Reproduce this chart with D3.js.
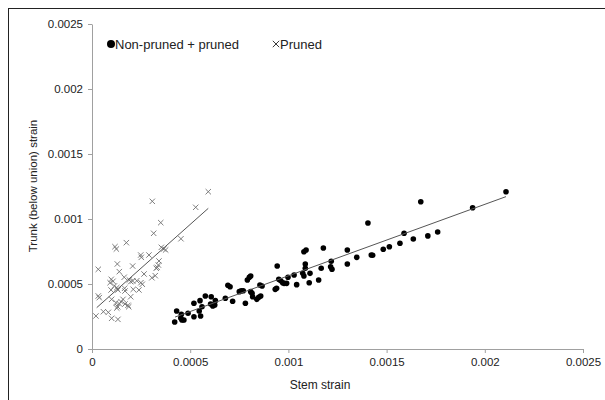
<!DOCTYPE html>
<html>
<head>
<meta charset="utf-8">
<script src="https://cdnjs.cloudflare.com/ajax/libs/d3/7.8.5/d3.min.js"></script>
<style>
body { margin: 0; background: #fff; }
text { font-family: "Liberation Sans", Arial, sans-serif; }
</style>
</head>
<body>
<script>
const w = 605;
const h = 400;

// pruned (crosses): stem strain, trunk strain
const prunedX = [0.000592,0.000528,0.000307,0.000350,0.000314,0.000453,0.000175,0.000117,0.000124,0.000353,
  0.000365,0.000375,0.000248,0.000251,0.000290,0.000341,0.000338,0.000332,0.000327,0.000032,
  0.000129,0.000207,0.000139,0.000265,0.000322,0.000305,0.000098,0.000107,0.000092,0.000164,
  0.000190,0.000197,0.000207,0.000228,0.000249,0.000256,0.000114,0.000126,0.000132,0.000166,
  0.000168,0.000097,0.000210,0.000239,0.000032,0.000037,0.000100,0.000158,0.000148,0.000139,
  0.000197,0.000168,0.000183,0.000187,0.000122,0.000131,0.000126,0.000058,0.000083,0.000020,
  0.000100,0.000132];
const prunedY = [0.001210,0.001090,0.001136,0.000972,0.000890,0.000848,0.000818,0.000787,0.000769,0.000782,
  0.000769,0.000762,0.000723,0.000705,0.000723,0.000677,0.000646,0.000628,0.000621,0.000613,
  0.000654,0.000638,0.000595,0.000577,0.000564,0.000548,0.000536,0.000521,0.000510,0.000552,
  0.000531,0.000518,0.000523,0.000525,0.000510,0.000498,0.000485,0.000472,0.000454,0.000467,
  0.000446,0.000454,0.000459,0.000454,0.000408,0.000395,0.000382,0.000382,0.000364,0.000348,
  0.000402,0.000346,0.000336,0.000325,0.000356,0.000325,0.000315,0.000287,0.000282,0.000254,
  0.000236,0.000228];

// non-pruned + pruned (dots)
const allX = [0.000421,0.000431,0.000452,0.000458,0.000468,0.000455,0.000489,0.000519,0.000519,0.000546,
  0.000553,0.000550,0.000560,0.000577,0.000607,0.000604,0.000615,0.000625,0.000628,0.000679,
  0.000692,0.000716,0.000750,0.000760,0.000770,0.000781,0.000791,0.000801,0.000808,0.000808,
  0.000815,0.000818,0.000839,0.000849,0.000859,0.000855,0.000866,0.000940,0.000933,0.000943,
  0.000951,0.000961,0.000971,0.000978,0.000991,0.000998,0.001029,0.001042,0.001086,0.001086,
  0.001079,0.001110,0.001106,0.001154,0.001079,0.001090,0.001178,0.001167,0.001218,0.001215,
  0.001222,0.001300,0.001300,0.001348,0.001405,0.001422,0.001429,0.001483,0.001514,0.001568,
  0.001589,0.001636,0.001674,0.001938,0.002108,0.000703,0.001073,0.001710,0.001760];
const allY = [0.000208,0.000292,0.000238,0.000223,0.000223,0.000267,0.000275,0.000352,0.000248,0.000292,
  0.000254,0.000372,0.000325,0.000408,0.000402,0.000346,0.000331,0.000338,0.000372,0.000390,
  0.000490,0.000367,0.000441,0.000448,0.000448,0.000352,0.000531,0.000552,0.000562,0.000441,
  0.000428,0.000402,0.000382,0.000398,0.000408,0.000492,0.000485,0.000467,0.000459,0.000638,
  0.000536,0.000525,0.000510,0.000505,0.000505,0.000552,0.000569,0.000495,0.000654,0.000621,
  0.000562,0.000582,0.000510,0.000531,0.000748,0.000762,0.000777,0.000621,0.000675,0.000633,
  0.000613,0.000762,0.000654,0.000705,0.000969,0.000723,0.000721,0.000767,0.000787,0.000813,
  0.000890,0.000846,0.001133,0.001087,0.001210,0.000479,0.000582,0.000870,0.000900];

// trend lines, end points [x, y]
const prunedFit = [[0.0000239, 0.000318], [0.000592, 0.001082]];
const allFit = [[0.000423, 0.000246], [0.002108, 0.001172]];

const ticks = [0, 0.0005, 0.001, 0.0015, 0.002, 0.0025];
const tickLabels = ["0", "0.0005", "0.001", "0.0015", "0.002", "0.0025"];

let svg = d3.select("body")
           .append("svg")
               .attr("width", w)
               .attr("height", h);

// outer frame
svg.append("rect")
    .attr("x", 8.5).attr("y", 8.5)
    .attr("width", 620).attr("height", 420)
    .attr("fill", "none")
    .attr("stroke", "#222")
    .attr("stroke-width", 1);

let x = d3.scaleLinear().domain([0, 0.0025]).range([92, 583]);
let y = d3.scaleLinear().domain([0, 0.0025]).range([349, 24]);

let xAxis = svg.append("g")
    .attr("transform", "translate(0,349)")
    .call(d3.axisBottom(x).tickValues(ticks).tickFormat((d, i) => tickLabels[i]).tickSize(4).tickSizeOuter(0));
let yAxis = svg.append("g")
    .attr("transform", "translate(92,0)")
    .call(d3.axisLeft(y).tickValues(ticks).tickFormat((d, i) => tickLabels[i]).tickSize(4).tickSizeOuter(0));

[xAxis, yAxis].forEach(a => {
    a.select(".domain").attr("stroke", "#a0a0a0");
    a.selectAll(".tick line").attr("stroke", "#a0a0a0");
    a.selectAll(".tick text")
        .attr("fill", "#222")
        .style("font-size", "11.5px")
        .style("font-family", "Liberation Sans, Arial, sans-serif");
});
xAxis.selectAll(".tick text").attr("dy", "0.9em");
yAxis.selectAll(".tick text").attr("x", -9);

// axis titles
svg.append("text")
    .attr("x", 320).attr("y", 389)
    .attr("text-anchor", "middle")
    .style("font-size", "12px")
    .attr("fill", "#222")
    .text("Stem strain");
svg.append("text")
    .attr("transform", "translate(37,186) rotate(-90)")
    .attr("text-anchor", "middle")
    .style("font-size", "11.5px")
    .attr("fill", "#222")
    .text("Trunk (below union) strain");

let line = d3.line().x(d => x(d[0])).y(d => y(d[1]));

// crosses
svg.selectAll("path.cross")
    .data(d3.range(prunedX.length))
    .enter()
    .append("path")
    .attr("class", "cross")
    .attr("transform", i => "translate(" + x(prunedX[i]) + "," + y(prunedY[i]) + ")")
    .attr("d", "M-2.7,-2.7L2.7,2.7M-2.7,2.7L2.7,-2.7")
    .attr("stroke", "#707070")
    .attr("stroke-width", 0.9)
    .attr("fill", "none");

// dots
svg.selectAll("circle.dot")
    .data(d3.range(allX.length))
    .enter()
    .append("circle")
    .attr("class", "dot")
    .attr("cx", i => x(allX[i]))
    .attr("cy", i => y(allY[i]))
    .attr("r", 2.8)
    .attr("fill", "#000");

svg.append("path")
    .attr("d", line(prunedFit))
    .attr("stroke", "#555")
    .attr("stroke-width", 1)
    .attr("fill", "none");
svg.append("path")
    .attr("d", line(allFit))
    .attr("stroke", "#555")
    .attr("stroke-width", 1)
    .attr("fill", "none");

// legend
let legend = svg.append("g");
legend.append("circle").attr("cx", 111).attr("cy", 44).attr("r", 4).attr("fill", "#000");
legend.append("text").attr("x", 115).attr("y", 48.5)
    .style("font-size", "13px").attr("fill", "#222").text("Non-pruned + pruned");
legend.append("path")
    .attr("transform", "translate(276,44)")
    .attr("d", "M-3.2,-3.2L3.2,3.2M-3.2,3.2L3.2,-3.2")
    .attr("stroke", "#222").attr("stroke-width", 0.9);
legend.append("text").attr("x", 280).attr("y", 48.5)
    .style("font-size", "13px").attr("fill", "#222").text("Pruned");
</script>
</body>
</html>
